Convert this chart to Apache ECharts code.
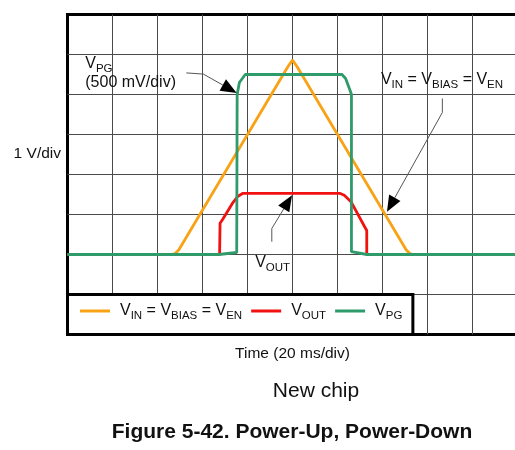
<!DOCTYPE html>
<html><head><meta charset="utf-8">
<script src="https://cdn.jsdelivr.net/npm/echarts@6/dist/echarts.min.js"></script>
<style>html,body{margin:0;padding:0;background:#fff}#c{width:515px;height:450px}</style>
</head><body><div id="c"></div>
<script>
// ---- data (time in ms, 20 ms/div; VIN & VOUT in V, 1 V/div; VPG in V, 500 mV/div)
const vinTime  = [0, 46.5, 48, 49.5, 98, 100, 102, 150.5, 152, 153.5, 200];
const vinVolt  = [0, 0, 0.03, 0.12, 4.7, 4.86, 4.7, 0.12, 0.03, 0, 0];
const voutTime = [0, 67.6, 67.8, 69, 73.2, 75.6, 78, 121, 123, 126, 132, 133, 133, 200];
const voutVolt = [0, 0, 0.78, 0.88, 1.27, 1.45, 1.53, 1.53, 1.48, 1.32, 0.7, 0.6, 0, 0];
const vpgTime  = [0, 67.2, 75.2, 75.4, 76.4, 79, 122, 123.6, 125.6, 126.2, 126.2, 133, 200];
const vpgVolt  = [0, 0, 0.025, 2.0, 2.15, 2.25, 2.25, 2.2, 2.05, 2.0, 0.035, 0, 0];
const seriesNames = ['VIN = VBIAS = VEN', 'VOUT', 'VPG'];
const seriesLabels = ['V_{IN} = V_{BIAS} = V_{EN}', 'V_{OUT}', 'V_{PG}'];

const FONT = "'Liberation Sans', Arial, Helvetica, sans-serif";
const INK = '#111';
const COLORS = ['#F8A215', '#F21111', '#2F9A6A'];

function toRich(str) {
  return str.replace(/_\{([^}]*)\}|([^_]+)/g, (m, sub, main) =>
    sub !== undefined ? '{s|' + sub + '}' : '{m|' + main + '}');
}
const legendRich = {
  m: {fontSize: 16, lineHeight: 22, verticalAlign: 'middle', fontFamily: FONT, color: INK},
  s: {fontSize: 11.5, lineHeight: 11, verticalAlign: 'bottom', fontFamily: FONT, color: INK}
};
const gfxRich = {
  m: {fontSize: 16, lineHeight: 22, verticalAlign: 'middle', fontFamily: FONT, fill: INK},
  s: {fontSize: 11.5, lineHeight: 11, verticalAlign: 'bottom', fontFamily: FONT, fill: INK}
};
const legendText = {};
seriesNames.forEach((n, i) => legendText[n] = toRich(seriesLabels[i]));

function pairs(t, v) { return t.map((x, i) => [x, v[i]]); }

const chart = echarts.init(document.getElementById('c'), null, {renderer: 'canvas'});
const option = {
  animation: false,
  backgroundColor: '#fff',
  grid: {left: 67.5, top: 14.5, width: 450, height: 320, show: true, outerBoundsMode: 'none', containLabel: false,
         borderColor: '#000', borderWidth: 3, backgroundColor: 'transparent'},
  xAxis: {type: 'value', min: 0, max: 200, interval: 20,
    name: 'Time (20 ms/div)', nameLocation: 'middle', nameGap: 11,
    nameTextStyle: {fontSize: 15.5, color: INK, fontFamily: FONT},
    axisLine: {show: false}, axisTick: {show: false}, axisLabel: {show: false},
    splitLine: {show: true, showMinLine: false, showMaxLine: false, lineStyle: {color: '#4a4a4a', width: 1}}},
  yAxis: [
    {type: 'value', min: -2, max: 6, interval: 1,
     axisLine: {show: false}, axisTick: {show: false}, axisLabel: {show: false},
     splitLine: {show: true, showMinLine: false, showMaxLine: false, lineStyle: {color: '#4a4a4a', width: 1}}},
    {type: 'value', min: -1, max: 3, interval: 0.5,
     axisLine: {show: false}, axisTick: {show: false}, axisLabel: {show: false},
     splitLine: {show: false}}
  ],
  legend: {
    left: 80, top: 303, padding: 0, itemGap: 9, itemWidth: 30, itemHeight: 3,
    icon: 'rect', selectedMode: false, z: 10, data: seriesNames,
    textStyle: {padding: [0, 0, 0, 5], rich: legendRich},
    formatter: n => legendText[n]
  },
  title: [
    {text: 'New chip', left: 316, top: 381, textAlign: 'center', padding: 0,
     textStyle: {fontSize: 21, fontWeight: 'normal', color: INK, fontFamily: FONT, lineHeight: 21}},
    {text: 'Figure 5-42. Power-Up, Power-Down', left: 292, top: 422, textAlign: 'center', padding: 0,
     textStyle: {fontSize: 21, fontWeight: 'bold', color: INK, fontFamily: FONT, lineHeight: 21}}
  ],
  series: [
    {name: seriesNames[0], type: 'line', data: pairs(vinTime, vinVolt), yAxisIndex: 0,
     symbol: 'none', showSymbol: false, color: COLORS[0], lineStyle: {width: 2.8, color: COLORS[0]}, z: 2},
    {name: seriesNames[1], type: 'line', data: pairs(voutTime, voutVolt), yAxisIndex: 0,
     symbol: 'none', showSymbol: false, color: COLORS[1], lineStyle: {width: 2.8, color: COLORS[1]}, z: 3},
    {name: seriesNames[2], type: 'line', data: pairs(vpgTime, vpgVolt), yAxisIndex: 1,
     symbol: 'none', showSymbol: false, color: COLORS[2], lineStyle: {width: 2.8, color: COLORS[2]}, z: 4}
  ]
};
chart.setOption(option);

// ---- annotations (anchors in data coordinates: ms, V on the 1 V/div axis)
const arrows = [
  [[52.8, 4.54], [60.4, 4.51], [75.2, 4.04]],
  [[166.6, 3.9], [166.6, 3.55], [142, 1.07]],
  [[90.8, 0.32], [90.8, 0.65], [99.8, 1.48]]
];
const labels = [
  {text: 'V_{PG}', at: [7.9, 4.63]},
  {text: '(500 mV/div)', at: [7.9, 4.17]},
  {text: 'V_{IN} = V_{BIAS} = V_{EN}', at: [139.3, 4.23]},
  {text: 'V_{OUT}', at: [83.4, -0.34]}
];
const px = p => chart.convertToPixel({xAxisIndex: 0, yAxisIndex: 0}, p);
const gfx = [];
// legend frame (from the y = -1 gridline to the bottom, 0 .. 153.5 ms)
const lb0 = px([0, -1]), lb1 = px([153.5, -2]);
gfx.push({type: 'rect', z: 5, shape: {x: lb0[0], y: lb0[1], width: lb1[0] - lb0[0], height: lb1[1] - lb0[1]},
  style: {fill: '#fff', stroke: '#000', lineWidth: 3}});
arrows.forEach(a => {
  const pts = a.map(px);
  const T = pts[pts.length - 1], P = pts[pts.length - 2];
  const dx = T[0] - P[0], dy = T[1] - P[1], L = Math.hypot(dx, dy);
  const ux = dx / L, uy = dy / L, len = 16, hw = 6.5;
  const B = [T[0] - ux * len, T[1] - uy * len];
  const line = pts.slice(0, -1).concat([B]);
  gfx.push({type: 'polyline', z: 6, shape: {points: line}, style: {stroke: '#555', lineWidth: 1, fill: null}});
  gfx.push({type: 'polygon', z: 6, shape: {points: [T, [B[0] - uy * hw, B[1] + ux * hw], [B[0] + uy * hw, B[1] - ux * hw]]},
    style: {fill: '#000'}});
});
labels.forEach(l => {
  const p = px(l.at);
  gfx.push({type: 'text', z: 7, x: p[0], y: p[1] - 16.5,
    style: {text: toRich(l.text), rich: gfxRich, align: 'left', verticalAlign: 'top', fill: INK}});
});
gfx.push({type: 'text', z: 7, x: 61, y: 142.6,
  style: {text: '1 V/div', fontSize: 15.5, fontFamily: FONT, fill: INK, align: 'right', verticalAlign: 'top', lineHeight: 22}});
chart.setOption({graphic: gfx});
</script>
</body></html>
